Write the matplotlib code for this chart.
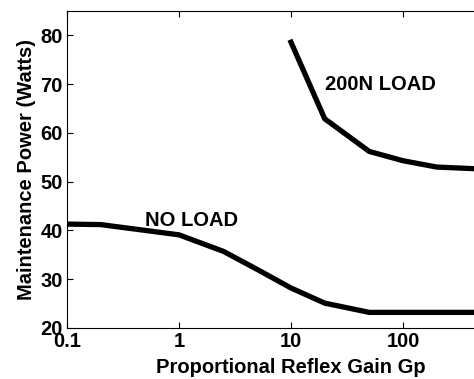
import matplotlib
matplotlib.use("Agg")
import matplotlib.pyplot as plt

# maintenance power vs proportional reflex gain
gain_noload = [0.1, 0.2, 1, 2.5, 5, 10, 20, 50, 100, 200, 500]
power_noload = [41.3, 41.2, 39.1, 35.7, 32.0, 28.2, 25.1, 23.2, 23.2, 23.2, 23.2]

gain_load = [10, 20, 50, 100, 200, 500]
power_load = [78.6, 62.9, 56.2, 54.3, 53.0, 52.6]

xticks = [0.1, 1, 10, 100]
xticklabels = ['0.1', '1', '10', '100']
yticks = [20, 30, 40, 50, 60, 70, 80]

plt.rcParams['font.family'] = ['Liberation Sans', 'DejaVu Sans']
plt.rcParams['font.weight'] = 'bold'
fs = 14.5

fig = plt.figure(figsize=(4.74, 3.79), dpi=100)
ax = fig.add_axes([0.1414, 0.1346, 0.945, 0.8364])

ax.plot(gain_noload, power_noload, color='black', lw=3.8, solid_joinstyle='miter')
ax.plot(gain_load, power_load, color='black', lw=3.8, solid_joinstyle='miter')

ax.text(20, 70, '200N LOAD', fontsize=fs, fontweight='bold', va='center')
ax.text(0.5, 42, 'NO LOAD', fontsize=fs, fontweight='bold', va='center')

ax.set_xscale('log')
ax.set_xlim(0.1, 1000)
ax.set_ylim(20, 85)
ax.set_xticks(xticks)
ax.set_xticklabels(xticklabels)
ax.set_yticks(yticks)
ax.minorticks_off()
ax.tick_params(direction='in', length=4, width=0.8, top=True, right=True,
               labelsize=fs)
ax.tick_params(axis='x', pad=3)
ax.tick_params(axis='y', pad=3)
for lab in ax.get_xticklabels() + ax.get_yticklabels():
    lab.set_fontweight('bold')
for s in ax.spines.values():
    s.set_linewidth(0.8)

ax.set_xlabel('Proportional Reflex Gain Gp', fontsize=fs, fontweight='bold', labelpad=5)
ax.set_ylabel('Maintenance Power (Watts)', fontsize=fs, fontweight='bold', labelpad=3)

fig.savefig('out.png', dpi=100)
